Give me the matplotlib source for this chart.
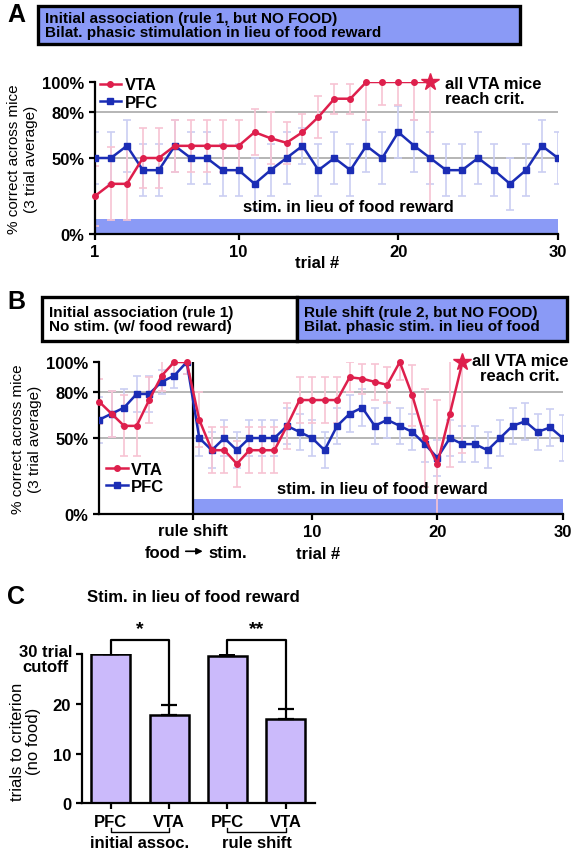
import matplotlib.pyplot as plt
from matplotlib.lines import Line2D
from matplotlib.patches import Rectangle
import matplotlib.transforms as mtrans

plt.rcParams['font.family'] = ['Liberation Sans', 'DejaVu Sans']
plt.rcParams['font.weight'] = 'bold'
plt.rcParams['font.size'] = 12
plt.rcParams['axes.linewidth'] = 1.6

RED = '#de1f4c'
BLUE = '#1b2db5'
RED_ERR = '#f7c3d3'
BLUE_ERR = '#cbcef2'
STIM = '#8a9af6'
BAR = '#cbbafb'
GRID = '#b0b0b0'

# panel A: initial association, stim instead of food
trials_a = list(range(1, 31))
vta_a = [25, 33, 33, 50, 50, 58, 58, 58, 58, 58, 67, 63, 60, 67, 77,
         89, 89, 100, 100, 100, 100, 100]
vta_a_err = [20, 24, 24, 20, 20, 17, 17, 17, 17, 17, 15, 17, 14, 12, 14,
             10, 10, 25, 15, 15, 25, 80]
pfc_a = [50, 50, 58, 42, 42, 58, 50, 50, 42, 42, 33, 42, 50, 58, 42,
         50, 42, 58, 50, 67, 58, 50, 42, 42, 50, 42, 33, 42, 58, 50]
pfc_a_err = [17, 17, 17, 17, 17, 17, 17, 17, 17, 17, 17, 17, 17, 12, 17,
             17, 17, 17, 17, 17, 17, 17, 17, 17, 17, 17, 17, 17, 17, 17]

# panel B: rule 1 with food (trials -7..0), then rule shift with stim (1..30)
trials_b = list(range(-7, 31))
vta_b = [74, 66, 58, 58, 75, 91, 100, 100,
         62, 42, 42, 33, 42, 42, 42, 58, 75, 75, 75, 75, 90, 89, 87, 85,
         100, 78, 50, 33, 66, 100]
vta_b_err = [15, 15, 20, 20, 15, 10, 8, 8,
             18, 15, 15, 15, 15, 15, 15, 15, 15, 15, 15, 15, 10, 10, 12, 12,
             12, 20, 32, 42, 35, 60]
pfc_b = [62, 66, 70, 79, 79, 87, 91, 100,
         50, 42, 50, 42, 50, 50, 50, 58, 54, 50, 42, 58, 66, 70, 58, 62,
         58, 54, 46, 37, 50, 46, 46, 42, 50, 58, 61, 54, 57, 50]
pfc_b_err = [15, 15, 12, 12, 12, 8, 8, 8,
             12, 12, 12, 12, 12, 12, 12, 12, 12, 12, 12, 12, 12, 12, 12, 12,
             12, 12, 12, 12, 12, 12, 12, 12, 12, 12, 12, 12, 12, 15]
rule_shift_x = 0.5

# panel C: trials to criterion
bar_labels = ['PFC', 'VTA', 'PFC', 'VTA']
bar_vals = [30, 17.8, 29.6, 17.0]
bar_err = [0, 1.9, 0.4, 1.9]
group_labels = ['initial assoc.', 'rule shift']
sig_labels = ['*', '**']

fig = plt.figure(figsize=(5.75, 8.53), dpi=100)


def header(x0, y0, x1, y1, lines, color):
    # boxes given in pixels from top-left of the 575x853 picture
    W, H = 575, 853
    fig.patches.append(Rectangle((x0 / W, 1 - y1 / H), (x1 - x0) / W, (y1 - y0) / H,
                                 transform=fig.transFigure, facecolor=color,
                                 edgecolor='black', linewidth=2.4))
    fig.text((x0 + 7) / W, 1 - (y0 + y1) / 2 / H, lines, ha='left', va='center',
             fontsize=11, linespacing=1.0)


def trace(ax, x, y, err, color, ecolor, marker, ms, star=False):
    n = len(y)
    ax.errorbar(x[:n], y, yerr=err, fmt='none', ecolor=ecolor, elinewidth=1.2,
                capsize=3, capthick=1.2, zorder=2)
    if star:
        ax.plot(x[:n], y, color=color, lw=1.8, zorder=4)
        ax.plot(x[:n - 1], y[:-1], ls='none', marker=marker, ms=ms, color=color,
                zorder=5, clip_on=False)
        ax.plot(x[n - 1], y[-1], ls='none', marker='*', ms=13, color=color,
                zorder=5, clip_on=False)
    else:
        ax.plot(x[:n], y, color=color, lw=1.8, marker=marker, ms=ms, zorder=4)


def style_line_axes(ax):
    ax.set_ylim(0, 100)
    ax.set_yticks([0, 50, 80, 100])
    ax.set_yticklabels(['0%', '50%', '80%', '100%'])
    for s in ['top', 'right']:
        ax.spines[s].set_visible(False)
    for v in [50, 80]:
        ax.axhline(v, color=GRID, lw=1.3, zorder=1)
    ax.tick_params(direction='out', width=1.6, length=4, labelsize=12)
    ax.set_ylabel('% correct across mice\n(3 trial average)', fontsize=11,
                  labelpad=3, linespacing=1.3)


handles = [Line2D([], [], color=RED, lw=1.8, marker='o', ms=4),
           Line2D([], [], color=BLUE, lw=1.8, marker='s', ms=4)]

# ---- A ----
axA = fig.add_axes([0.1652, 0.7245, 0.805, 0.1782])
style_line_axes(axA)
axA.set_xlim(1, 30)
axA.set_xticks([1, 10, 20, 30])
axA.bar(1, 10, width=29, align='edge', color=STIM, zorder=1.5)
trace(axA, trials_a, pfc_a, pfc_a_err, BLUE, BLUE_ERR, 's', 4.5)
trace(axA, trials_a, vta_a, vta_a_err, RED, RED_ERR, 'o', 4, star=True)
axA.text(16.85, 18, 'stim. in lieu of food reward', ha='center', va='center', zorder=6)
axA.text(22.9, 104, 'all VTA mice\nreach crit.', ha='left', va='top', linespacing=1.0,
         clip_on=False)
axA.text(0.48, -0.19, 'trial #', transform=axA.transAxes, ha='center', va='center')
axA.legend(handles, ['VTA', 'PFC'], loc='upper left', bbox_to_anchor=(0.01, 1.03),
           frameon=False, handlelength=1.3, handletextpad=0.2, labelspacing=0.15,
           borderpad=0, borderaxespad=0, fontsize=12)

header(38, 7, 520, 45, 'Initial association (rule 1, but NO FOOD)\n'
       'Bilat. phasic stimulation in lieu of food reward', STIM)
fig.text(0.012, 0.982, 'A', fontsize=18, ha='left', va='center')

# ---- B ----
axB = fig.add_axes([0.1722, 0.3962, 0.8064, 0.1782])
style_line_axes(axB)
axB.set_xlim(-7, 30)
axB.set_xticks([rule_shift_x, 10, 20, 30])
axB.set_xticklabels(['', '10', '20', '30'])
axB.bar(rule_shift_x, 10, width=30 - rule_shift_x, align='edge', color=STIM, zorder=1.5)
axB.axvline(rule_shift_x, color='black', lw=1.6, zorder=3)
trace(axB, trials_b, pfc_b, pfc_b_err, BLUE, BLUE_ERR, 's', 4.5)
trace(axB, trials_b, vta_b, vta_b_err, RED, RED_ERR, 'o', 4, star=True)
axB.text(15.6, 17, 'stim. in lieu of food reward', ha='center', va='center', zorder=6)
axB.text(26.6, 106, 'all VTA mice\nreach crit.', ha='center', va='top', linespacing=1.0,
         clip_on=False)
axB.text(0.472, -0.26, 'trial #', transform=axB.transAxes, ha='center', va='center')
tB = mtrans.blended_transform_factory(axB.transData, axB.transAxes)
axB.text(rule_shift_x, -0.11, 'rule shift', transform=tB, ha='center', va='center')
axB.text(rule_shift_x - 1.0, -0.25, 'food', transform=tB, ha='right', va='center')
axB.text(rule_shift_x + 1.2, -0.25, 'stim.', transform=tB, ha='left', va='center')
axB.annotate('', xy=(rule_shift_x + 1.0, -0.245), xytext=(rule_shift_x - 0.8, -0.245),
             xycoords=tB, textcoords=tB,
             arrowprops=dict(arrowstyle='-|>', color='black', lw=1.2, mutation_scale=9))
axB.legend(handles, ['VTA', 'PFC'], loc='lower left', bbox_to_anchor=(0.015, 0.13),
           frameon=False, handlelength=1.3, handletextpad=0.2, labelspacing=0.15,
           borderpad=0, borderaxespad=0, fontsize=12)

header(42, 298, 297, 342, 'Initial association (rule 1)\nNo stim. (w/ food reward)', 'white')
header(297, 298, 567, 342, 'Rule shift (rule 2, but NO FOOD)\n'
       'Bilat. phasic stim. in lieu of food', STIM)
fig.text(0.012, 0.646, 'B', fontsize=18, ha='left', va='center')

# ---- C ----
axC = fig.add_axes([0.142, 0.0571, 0.4057, 0.175])
xc = list(range(len(bar_vals)))
axC.bar(xc, bar_vals, width=0.67, color=BAR, edgecolor='black', linewidth=1.8, zorder=2)
axC.errorbar(xc, bar_vals, yerr=[[0] * len(bar_err), bar_err], fmt='none',
             ecolor='black', elinewidth=1.6, capsize=6, capthick=1.6, zorder=3)
axC.set_xlim(-0.5, 3.5)
axC.set_ylim(0, 30)
axC.set_xticks(xc)
axC.set_xticklabels(bar_labels)
axC.set_yticks([0, 10, 20, 30])
axC.set_yticklabels(['0', '10', '20', ''])
for s in ['top', 'right']:
    axC.spines[s].set_visible(False)
axC.tick_params(direction='out', width=1.6, length=4, labelsize=12)
axC.annotate('30 trial\ncutoff', xy=(0, 30), xycoords=('axes fraction', 'data'),
             xytext=(-7, 7), textcoords='offset points', ha='right', va='top',
             multialignment='center', linespacing=1.0, fontsize=12)
axC.set_ylabel('trials to criterion\n(no food)', fontsize=12, labelpad=2, linespacing=1.05)
axC.yaxis.set_label_coords(-0.175, 0.42)

tC = mtrans.blended_transform_factory(axC.transData, axC.transAxes)
for g in range(2):
    i, j = 2 * g, 2 * g + 1
    top = 32.8
    axC.plot([i, i, j, j], [bar_vals[i] + bar_err[i], top, top, bar_vals[j] + bar_err[j]],
             color='black', lw=1.6, clip_on=False, zorder=4)
    axC.text((i + j) / 2, top + 0.6, sig_labels[g], ha='center', va='bottom', fontsize=14)
    axC.plot([i, i, j, j], [-0.165, -0.19, -0.19, -0.165], transform=tC, color='black',
             lw=1.0, clip_on=False)
    axC.text((i + j) / 2, -0.265, group_labels[g], transform=tC, ha='center', va='center')

axC.text(0.477, 1.384, 'Stim. in lieu of food reward', transform=axC.transAxes,
         ha='center', va='center')
fig.text(0.012, 0.30, 'C', fontsize=18, ha='left', va='center')

fig.savefig('out.png', dpi=100)
